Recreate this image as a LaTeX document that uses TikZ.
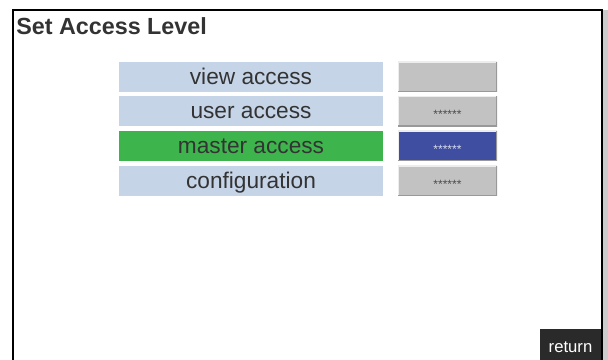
\documentclass[tikz,border=0pt]{standalone}
\usepackage{fontspec}
\setmainfont{Liberation Sans}
\definecolor{lightbtn}{HTML}{C5D4E7}
\definecolor{greenbtn}{HTML}{3DB54C}
\definecolor{bluebtn}{HTML}{3F4EA1}
\definecolor{graybtn}{HTML}{C2C2C2}
\definecolor{darkbtn}{HTML}{2A2A2A}
\definecolor{btntext}{HTML}{333333}
\begin{document}
\begin{tikzpicture}[x=0.75pt,y=-0.75pt,
    levelbox/.style={fill=lightbtn, inner sep=0pt, minimum width=198pt, minimum height=22.5pt,
      text height=14.5pt, text depth=3.5pt,
      text=btntext, font=\fontsize{17}{20}\selectfont},
    pwbox/.style={fill=graybtn, inner sep=0pt, minimum width=74.25pt, minimum height=22.5pt,
      text height=10.6pt, text depth=0pt,
      text=black!70, font=\fontsize{9}{10}\selectfont,
      path picture={
        \draw[white!70!graybtn, line width=1.5pt] (path picture bounding box.south west)
          -- (path picture bounding box.north west) -- (path picture bounding box.north east);
        \draw[black!40, line width=1.5pt] (path picture bounding box.north east)
          -- (path picture bounding box.south east) -- (path picture bounding box.south west);}}]
  \useasboundingbox (0,0) rectangle (608,360);
  % frame
  \fill[black!20] (603,10) rectangle (608,360);
  \draw[line width=2.2pt] (13,360) -- (13,10) -- (602,10) -- (602,360);
  \node[anchor=base west, inner sep=0pt, text=btntext, font=\bfseries\fontsize{17.5}{20}\selectfont] (title) at (16,35) {Set Access Level};
  % access levels
  \node[levelbox] (view) at (251,77) {view access};
  \node[levelbox] (user) at (251,111.5) {user access};
  \node[levelbox, fill=greenbtn] (master) at (251,146) {master access};
  \node[levelbox] (config) at (251,181) {configuration};
  % passwords
  \node[pwbox] (viewpw) at (447.5,77) {};
  \node[pwbox] (userpw) at (447.5,111.5) {******};
  \node[pwbox, fill=bluebtn, text=white!80!bluebtn] (masterpw) at (447.5,146) {******};
  \node[pwbox] (configpw) at (447.5,181) {******};
  % return
  \node[fill=darkbtn, inner sep=0pt, minimum width=45.75pt, minimum height=23.25pt,
    text height=11.25pt, text depth=0pt,
    text=white, font=\fontsize{12.5}{14}\selectfont] (return) at (570.5,344.5) {return};
\end{tikzpicture}
\end{document}
